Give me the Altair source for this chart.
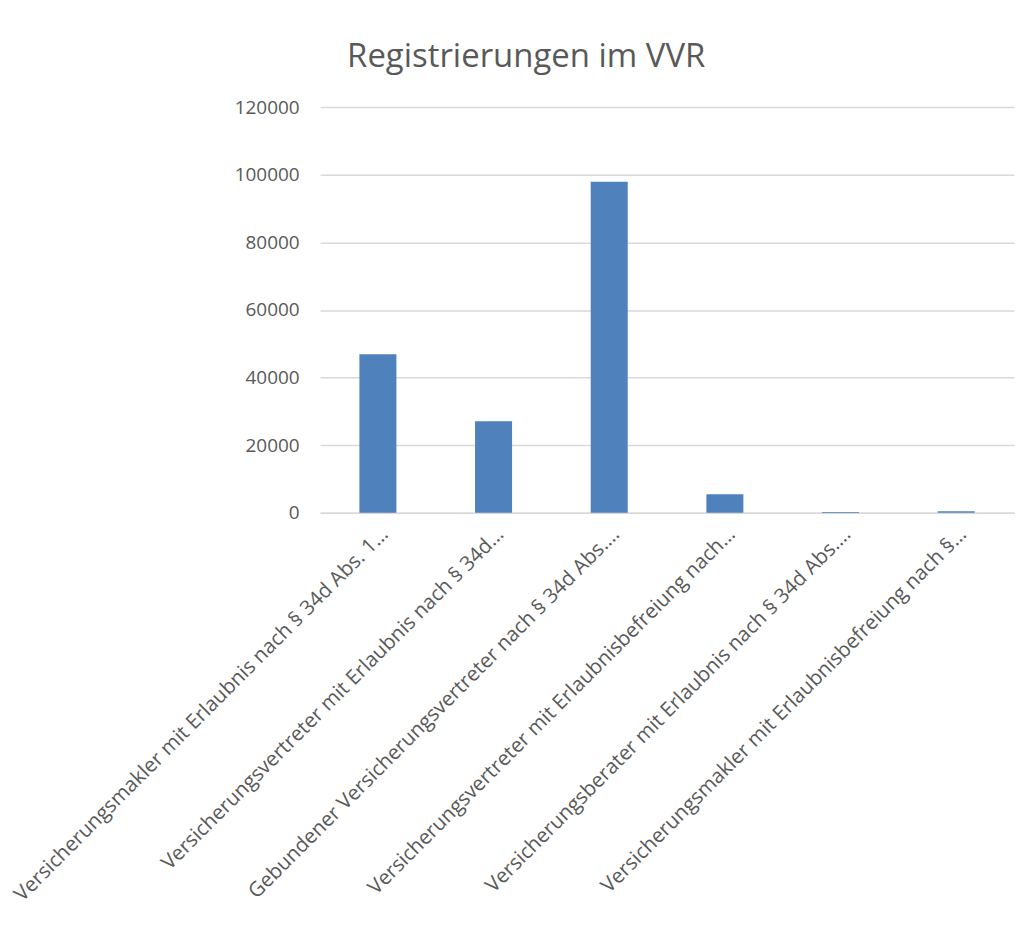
import altair as alt
import pandas as pd

categories = [
    "Versicherungsmakler mit Erlaubnis nach § 34d Abs. 1…",
    "Versicherungsvertreter mit Erlaubnis nach § 34d…",
    "Gebundener Versicherungsvertreter nach § 34d Abs.…",
    "Versicherungsvertreter mit Erlaubnisbefreiung nach…",
    "Versicherungsberater mit Erlaubnis nach § 34d Abs.…",
    "Versicherungsmakler mit Erlaubnisbefreiung nach §…",
]
values = [46900, 27100, 97900, 5500, 250, 450]

df = pd.DataFrame({"Kategorie": categories, "Anzahl": values})

FONT = "Open Sans"
TXT = "#595959"

chart = alt.Chart(df).mark_bar(color="#4F81BD").encode(
    x=alt.X(
        "Kategorie:N",
        sort=categories,
        title=None,
        scale=alt.Scale(paddingInner=0.68, paddingOuter=0.34),
        axis=alt.Axis(
            labelAngle=-45,
            labelLimit=0,
            labelFontSize=20.5,
            labelColor=TXT,
            labelFont=FONT,
            ticks=False,
            labelPadding=11,
            domainColor="#D9D9D9",
            domainWidth=1.5,
        ),
    ),
    y=alt.Y(
        "Anzahl:Q",
        title=None,
        scale=alt.Scale(domain=[0, 120000]),
        axis=alt.Axis(
            values=[0, 20000, 40000, 60000, 80000, 100000, 120000],
            format="d",
            labelFontSize=19,
            labelColor=TXT,
            labelFont=FONT,
            ticks=False,
            domain=False,
            labelPadding=21,
            gridColor="#D9D9D9",
            gridWidth=1.5,
        ),
    ),
).properties(
    width=696,
    height=407,
    title=alt.TitleParams(
        "Registrierungen im VVR",
        fontSize=33,
        font=FONT,
        fontWeight="normal",
        color=TXT,
        anchor="middle",
        frame="bounds",
        offset=24,
        dx=14,
    ),
    padding={"left": 2, "top": 32, "right": 8, "bottom": 5},
).configure_view(stroke=None)

chart.save("out.html", embed_options={"renderer": "svg", "actions": False})
